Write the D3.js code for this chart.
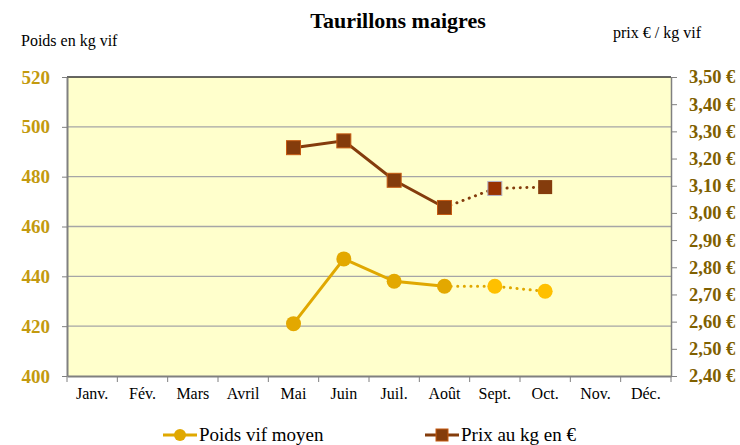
<!DOCTYPE html>
<html lang="fr">
<head>
<meta charset="UTF-8">
<title>Taurillons maigres</title>
<script src="https://d3js.org/d3.v7.min.js"></script>
<style>
  body { margin: 0; background: #fff; }
  svg { display: block; font-family: 'Liberation Serif', 'DejaVu Serif', serif; }
  .grid line { stroke: #a6a6a6; stroke-width: 1.3px; }
  .axis text { font-family: 'Liberation Serif', 'DejaVu Serif', serif; }
  .axis-left text { fill: #c39a0e; font-weight: bold; font-size: 19px; }
  .axis-right text { fill: #7f6000; font-weight: bold; font-size: 18.5px; }
  .axis-x text { fill: #000; font-size: 16px; }
  .axis path, .axis line { stroke: #808080; }
</style>
</head>
<body>
<svg width="740" height="445"></svg>
<script>
// months
const months = ["Janv.", "Fév.", "Mars", "Avril", "Mai", "Juin", "Juil.", "Août", "Sept.", "Oct.", "Nov.", "Déc."];

// poids vif moyen (kg) – Mai..Août observés, Sept..Oct prévision
const weightMonths = ["Mai", "Juin", "Juil.", "Août", "Sept.", "Oct."];
const weightValues = [421, 447, 438, 436, 436, 434];

// prix au kg en €
const priceMonths = ["Mai", "Juin", "Juil.", "Août", "Sept.", "Oct."];
const priceValues = [3.24, 3.265, 3.12, 3.02, 3.09, 3.095];

// nombre de points "réels" (le reste en pointillé)
const nActual = 4;

const leftTicks = [400, 420, 440, 460, 480, 500, 520];
const rightTicks = [2.4, 2.5, 2.6, 2.7, 2.8, 2.9, 3.0, 3.1, 3.2, 3.3, 3.4, 3.5];

const plot = { left: 67, right: 671, top: 77, bottom: 376 };

const svg = d3.select("svg");

const x = d3.scaleBand().domain(months).range([plot.left, plot.right]);
const yL = d3.scaleLinear().domain([400, 520]).range([plot.bottom, plot.top]);
const yR = d3.scaleLinear().domain([2.4, 3.5]).range([plot.bottom, plot.top]);

// titles
svg.append("text").attr("x", 398).attr("y", 28).attr("text-anchor", "middle")
  .attr("font-size", 22).attr("font-weight", "bold").text("Taurillons maigres");
svg.append("text").attr("x", 21).attr("y", 46).attr("font-size", 16).text("Poids en kg vif");
svg.append("text").attr("x", 701).attr("y", 38).attr("text-anchor", "end")
  .attr("font-size", 16).text("prix € / kg vif");

// plot background
svg.append("rect")
  .attr("x", plot.left).attr("y", plot.top)
  .attr("width", plot.right - plot.left).attr("height", plot.bottom - plot.top)
  .attr("fill", "#ffffcc");

// grid
svg.append("g").attr("class", "grid")
  .selectAll("line").data(leftTicks.slice(1, -1)).join("line")
  .attr("x1", plot.left).attr("x2", plot.right)
  .attr("y1", d => yL(d)).attr("y2", d => yL(d));

// plot frame
svg.append("line").attr("x1", plot.left).attr("x2", plot.right)
  .attr("y1", plot.top).attr("y2", plot.top).attr("stroke", "#333").attr("stroke-width", 1.3);

const fmtEuro = d => d3.format(".2f")(d).replace(".", ",") + " €";

// left axis
const gL = svg.append("g").attr("class", "axis axis-left")
  .attr("transform", `translate(${plot.left},0)`)
  .call(d3.axisLeft(yL).tickValues(leftTicks).tickSize(5).tickPadding(12).tickSizeOuter(0));
gL.select(".domain").attr("stroke-width", 2);

// right axis
const gR = svg.append("g").attr("class", "axis axis-right")
  .attr("transform", `translate(${plot.right},0)`)
  .call(d3.axisRight(yR).tickValues(rightTicks).tickFormat(fmtEuro).tickSize(6).tickPadding(12).tickSizeOuter(0));
gR.select(".domain").attr("stroke-width", 1.5);

// bottom axis: labels at band centers, ticks at boundaries
const gX = svg.append("g").attr("class", "axis axis-x")
  .attr("transform", `translate(0,${plot.bottom})`)
  .call(d3.axisBottom(x).tickSize(0).tickPadding(12).tickSizeOuter(0));
gX.select(".domain").attr("stroke-width", 2);
gX.selectAll(".bound").data(d3.range(months.length + 1)).join("line")
  .attr("class", "bound")
  .attr("x1", i => plot.left + i * x.step()).attr("x2", i => plot.left + i * x.step())
  .attr("y1", 0).attr("y2", 6).attr("stroke", "#808080");

const cx = m => x(m) + x.bandwidth() / 2;

const weightPts = weightMonths.map((m, i) => [cx(m), yL(weightValues[i])]);
const pricePts = priceMonths.map((m, i) => [cx(m), yR(priceValues[i])]);

const line = d3.line();

function drawSeries(pts, color) {
  svg.append("path").attr("d", line(pts.slice(0, nActual)))
    .attr("fill", "none").attr("stroke", color).attr("stroke-width", 3);
  svg.append("path").attr("d", line(pts.slice(nActual - 1)))
    .attr("fill", "none").attr("stroke", color).attr("stroke-width", 3)
    .attr("stroke-linecap", "round").attr("stroke-dasharray", "0.1 6.5");
}

drawSeries(weightPts, "#e0a800");
drawSeries(pricePts, "#843c0c");

// weight markers
svg.append("g").selectAll("circle").data(weightPts).join("circle")
  .attr("cx", d => d[0]).attr("cy", d => d[1]).attr("r", 7.5)
  .attr("fill", (d, i) => i < nActual ? "#e3a800" : "#ffc000");

// price markers
svg.append("g").selectAll("rect").data(pricePts).join("rect")
  .attr("x", d => d[0] - 7).attr("y", d => d[1] - 7)
  .attr("width", 14).attr("height", 14)
  .attr("fill", (d, i) => i === 4 ? "#993300" : "#843c0c")
  .attr("stroke", (d, i) => i < nActual ? "#c55a11" : (i === 4 ? "#b4b4c8" : "none"))
  .attr("stroke-width", 1);

// legend
const legend = [
  { label: "Poids vif moyen", color: "#e0a800", shape: "circle", x: 163 },
  { label: "Prix au kg en €", color: "#843c0c", shape: "square", x: 425 }
];
const lg = svg.append("g").selectAll("g").data(legend).join("g")
  .attr("transform", d => `translate(${d.x},435)`);
lg.append("line").attr("x1", 0).attr("x2", 34).attr("y1", 0).attr("y2", 0)
  .attr("stroke", d => d.color).attr("stroke-width", 3);
lg.filter(d => d.shape === "circle").append("circle")
  .attr("cx", 17).attr("cy", 0).attr("r", 6).attr("fill", d => d.color);
lg.filter(d => d.shape === "square").append("rect")
  .attr("x", 11).attr("y", -6).attr("width", 12).attr("height", 12)
  .attr("fill", d => d.color).attr("stroke", "#c55a11");
lg.append("text").attr("x", 36).attr("y", 6).attr("font-size", 19).text(d => d.label);
</script>
</body>
</html>
